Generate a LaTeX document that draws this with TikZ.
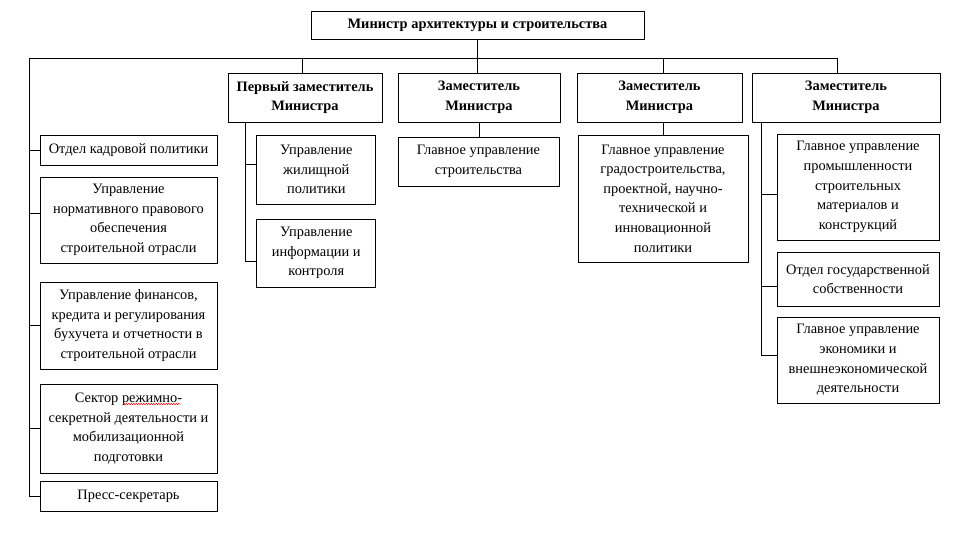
\documentclass[tikz,border=0pt]{standalone}
\usepackage{fontspec}
\setmainfont{Liberation Serif}
\usetikzlibrary{decorations.pathmorphing}
\newcommand\boxfont{\fontsize{14.4}{19.6}\selectfont}
\begin{document}
\begin{tikzpicture}[x=1pt,y=-1pt,
  box/.style={draw, line width=0.9pt, inner sep=1pt, align=center, font=\boxfont},
  hdr/.style={box, font=\boxfont\bfseries},
  wh/.style 2 args={minimum width=#1pt, minimum height=#2pt},
  link/.style={line width=0.9pt}]
\useasboundingbox (0,0) rectangle (957,535);
% top
\node[hdr, wh={333}{28}] (top) at (477.5,25) {Министр архитектуры и строительства};
% deputies
\node[hdr, wh={154}{49}] (D1) at (305,97.5) {Первый заместитель\\Министра};
\node[hdr, wh={162}{49}] (D2) at (479,97.5) {Заместитель\\Министра};
\node[hdr, wh={165}{49}] (D3) at (659.5,97.5) {Заместитель\\Министра};
\node[hdr, wh={188}{49}] (D4) at (846,97.5) {Заместитель\\Министра};
% left column
\node[box, wh={177}{30}] (L1) at (128.5,150) {Отдел кадровой политики};
\node[box, wh={177}{86}] (L2) at (128.5,220) {Управление\\нормативного правового\\обеспечения\\строительной отрасли};
\node[box, wh={177}{87}] (L3) at (128.5,325.5) {Управление финансов,\\кредита и регулирования\\бухучета и отчетности в\\строительной отрасли};
\node[box, wh={177}{89}] (L4) at (128.5,428.5) {Сектор режимно-\\секретной деятельности и\\мобилизационной\\подготовки};
\node[box, wh={177}{30}] (L5) at (128.5,496) {Пресс-секретарь};
% first deputy subunits
\node[box, wh={119}{69}] (S1a) at (316.3,169.5) {Управление\\жилищной\\политики};
\node[box, wh={119}{68}] (S1b) at (316.3,253) {Управление\\информации и\\контроля};
% second deputy
\node[box, wh={161}{49}] (S2) at (478.5,161.5) {Главное управление\\строительства};
% third deputy
\node[box, wh={170}{127}] (S3) at (663,198.5) {Главное управление\\градостроительства,\\проектной, научно-\\технической и\\инновационной\\политики};
% fourth deputy
\node[box, wh={162}{106}] (S4a) at (858,187) {Главное управление\\промышленности\\строительных\\материалов и\\конструкций};
\node[box, wh={162}{54}] (S4b) at (858,279) {Отдел государственной\\собственности};
\node[box, wh={162}{86}] (S4c) at (858,360) {Главное управление\\экономики и\\внешнеэкономической\\деятельности};
% bus
\coordinate (busL) at (29,58);
\coordinate (busR) at (837,58);
\coordinate (j1) at (302,58);
\coordinate (j3) at (663,58);
\draw[link] (busL) -- (busR);
\draw[link] (top.south) -- (top.south |- D2.north);
\draw[link] (j1) -- (j1 |- D1.north);
\draw[link] (j3) -- (j3 |- D3.north);
\draw[link] (busR) -- (busR |- D4.north);
% left column connectors
\coordinate (l2c) at ([yshift=7pt]L2.west);
\draw[link] (busL) -- (busL |- L5.west);
\draw[link] (busL |- L1.west) -- (L1.west);
\draw[link] (busL |- l2c) -- (l2c);
\draw[link] (busL |- L3.west) -- (L3.west);
\draw[link] (busL |- L4.west) -- (L4.west);
\draw[link] (busL |- L5.west) -- (L5.west);
% first deputy connectors
\coordinate (v1) at (245,0);
\coordinate (s1ac) at ([yshift=5.5pt]S1a.west);
\coordinate (s1bc) at ([yshift=-8pt]S1b.west);
\draw[link] (v1 |- D1.south) -- (v1 |- s1bc);
\draw[link] (v1 |- s1ac) -- (s1ac);
\draw[link] (v1 |- s1bc) -- (s1bc);
% second, third deputy
\draw[link] (D2.south) -- (D2.south |- S2.north);
\draw[link] (S3.north) -- (S3.north |- D3.south);
% fourth deputy connectors
\coordinate (v4) at (761,0);
\coordinate (s4ac) at ([yshift=-7pt]S4a.west);
\coordinate (s4bc) at ([yshift=-7pt]S4b.west);
\coordinate (s4cc) at ([yshift=5pt]S4c.west);
\draw[link] (v4 |- D4.south) -- (v4 |- s4cc);
\draw[link] (v4 |- s4ac) -- (s4ac);
\draw[link] (v4 |- s4bc) -- (s4bc);
\draw[link] (v4 |- s4cc) -- (s4cc);
% spell-check squiggle
\draw[red, line width=0.5pt, decorate, decoration={snake, amplitude=0.7pt, segment length=2.5pt}] (123,404) -- (180,404);
\end{tikzpicture}
\end{document}
